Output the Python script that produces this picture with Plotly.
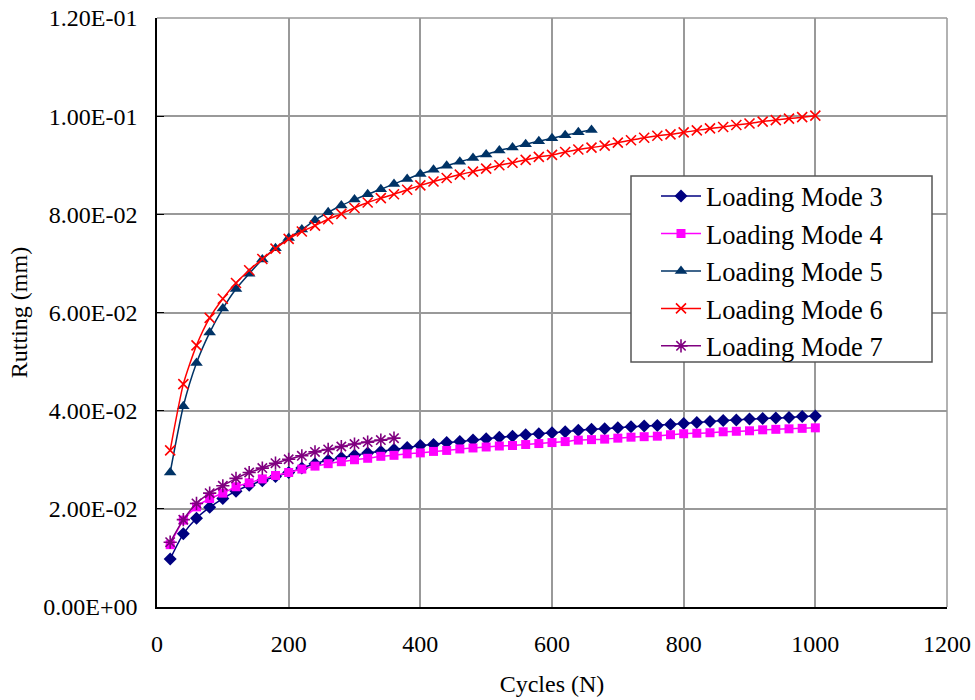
import plotly.graph_objects as go

cycles_long = list(range(20, 1001, 20))
cycles_m5 = list(range(20, 661, 20))
cycles_m7 = list(range(20, 361, 20))

mode3 = [0.0098, 0.0149, 0.0181, 0.0203, 0.0221, 0.0236, 0.0248, 0.0257, 0.0266, 0.0274,
         0.0283, 0.0292, 0.0299, 0.0304, 0.0309, 0.0314, 0.0317, 0.0321, 0.0325, 0.0329,
         0.0331, 0.0335, 0.0337, 0.0340, 0.0343, 0.0346, 0.0348, 0.0351, 0.0353, 0.0355,
         0.0357, 0.0360, 0.0362, 0.0363, 0.0365, 0.0367, 0.0369, 0.0370, 0.0372, 0.0374,
         0.0376, 0.0378, 0.0380, 0.0381, 0.0383, 0.0384, 0.0385, 0.0386, 0.0388, 0.0389]

mode4 = [0.0127, 0.0177, 0.0204, 0.0221, 0.0232, 0.0245, 0.0253, 0.0261, 0.0268, 0.0274,
         0.0281, 0.0287, 0.0292, 0.0296, 0.0300, 0.0303, 0.0307, 0.0309, 0.0312, 0.0314,
         0.0317, 0.0319, 0.0322, 0.0324, 0.0326, 0.0328, 0.0329, 0.0331, 0.0333, 0.0335,
         0.0337, 0.0340, 0.0341, 0.0342, 0.0344, 0.0346, 0.0347, 0.0348, 0.0351, 0.0353,
         0.0354, 0.0355, 0.0357, 0.0358, 0.0359, 0.0361, 0.0362, 0.0363, 0.0364, 0.0365]

mode5 = [0.0274, 0.0409, 0.0497, 0.0559, 0.0608, 0.0648, 0.0679, 0.0708, 0.0731, 0.0752,
         0.0769, 0.0788, 0.0804, 0.0818, 0.0830, 0.0841, 0.0851, 0.0862, 0.0872, 0.0882,
         0.0891, 0.0899, 0.0907, 0.0915, 0.0922, 0.0930, 0.0936, 0.0943, 0.0949, 0.0955,
         0.0961, 0.0967, 0.0972]

mode6 = [0.0319, 0.0454, 0.0533, 0.0589, 0.0628, 0.0660, 0.0686, 0.0709, 0.0730, 0.0750,
         0.0765, 0.0777, 0.0790, 0.0801, 0.0813, 0.0824, 0.0833, 0.0841, 0.0850, 0.0859,
         0.0867, 0.0874, 0.0881, 0.0887, 0.0893, 0.0900, 0.0905, 0.0911, 0.0917, 0.0921,
         0.0927, 0.0932, 0.0936, 0.0940, 0.0946, 0.0951, 0.0956, 0.0960, 0.0963, 0.0967,
         0.0971, 0.0975, 0.0978, 0.0982, 0.0985, 0.0989, 0.0992, 0.0995, 0.0998, 0.1001]

mode7 = [0.0132, 0.0178, 0.0211, 0.0232, 0.0247, 0.0262, 0.0274, 0.0283, 0.0293, 0.0301,
         0.0308, 0.0316, 0.0321, 0.0327, 0.0332, 0.0336, 0.0340, 0.0344]

names = ["Loading Mode 3", "Loading Mode 4", "Loading Mode 5", "Loading Mode 6", "Loading Mode 7"]
colors = ["#000080", "#FF00FF", "#003366", "#FF0000", "#800080"]

x_ticks = [0, 200, 400, 600, 800, 1000, 1200]
y_ticks = [0.0, 0.02, 0.04, 0.06, 0.08, 0.10, 0.12]
y_tick_labels = ["0.00E+00", "2.00E-02", "4.00E-02", "6.00E-02", "8.00E-02", "1.00E-01", "1.20E-01"]

FONT = "Liberation Serif, Times New Roman, serif"

fig = go.Figure()

series = [
    (cycles_long, mode3, dict(symbol="diamond", size=10)),
    (cycles_long, mode4, dict(symbol="square", size=9)),
    (cycles_m5, mode5, dict(symbol="triangle-up", size=11)),
    (cycles_long, mode6, dict(symbol="x-thin", size=10)),
    (cycles_m7, mode7, dict(symbol="asterisk", size=11)),
]

for i, (xs, ys, mk) in enumerate(series):
    c = colors[i]
    marker = dict(color=c, size=mk["size"], symbol=mk["symbol"])
    if mk["symbol"] in ("x-thin", "asterisk"):
        marker["line"] = dict(color=c, width=1.6)
    else:
        marker["line"] = dict(width=0)
    fig.add_trace(go.Scatter(
        x=xs, y=ys, name=names[i], mode="lines+markers",
        line=dict(color=c, width=1.5, shape="spline", smoothing=0.6),
        marker=marker,
    ))

# plot area: 790 x 589 px
fig.update_layout(
    width=975, height=700,
    margin=dict(l=157, r=28, t=18, b=93),
    paper_bgcolor="white", plot_bgcolor="white",
    font=dict(family=FONT, color="black", size=24),
    showlegend=True,
    legend=dict(
        x=(656 - 157) / 790, y=0.738, xanchor="left", yanchor="top",
        bgcolor="rgba(0,0,0,0)", borderwidth=0,
        font=dict(family=FONT, size=26.5, color="black"),
        tracegroupgap=0, itemwidth=40,
    ),
    xaxis=dict(
        range=[0, 1200], tickvals=x_ticks, ticktext=[str(v) for v in x_ticks],
        showgrid=True, gridcolor="#999999", gridwidth=1.5,
        showline=True, linecolor="black", linewidth=1.5,
        ticks="", ticklabelstandoff=14, automargin=False,
        ticklabeloverflow="allow",
        zeroline=False, mirror=False,
        title=dict(text="Cycles (N)", font=dict(family=FONT, size=24), standoff=20),
        tickfont=dict(family=FONT, size=24),
    ),
    yaxis=dict(
        range=[0, 0.12], tickvals=y_ticks, ticktext=y_tick_labels,
        showgrid=True, gridcolor="#999999", gridwidth=1.5,
        showline=True, linecolor="black", linewidth=1.5,
        ticks="inside", ticklen=7, tickcolor="black", ticklabelstandoff=13,
        automargin=False, ticklabeloverflow="allow",
        zeroline=False,
        title=dict(text="Rutting (mm)", font=dict(family=FONT, size=24), standoff=9),
        tickfont=dict(family=FONT, size=24),
    ),
)

# Right and top edges drawn as gray gridlines
fig.add_shape(type="line", xref="paper", yref="paper", x0=1, x1=1, y0=0, y1=1,
              line=dict(color="#999999", width=1.5))
fig.add_shape(type="line", xref="paper", yref="paper", x0=0, x1=1, y0=1, y1=1,
              line=dict(color="#999999", width=1.5))
# Legend box (white, covers curves beneath)
fig.add_shape(type="rect", xref="paper", yref="paper", layer="above",
              x0=(631 - 157) / 790, x1=(932 - 157) / 790,
              y0=(607 - 362) / 589, y1=(607 - 176) / 589,
              fillcolor="white", line=dict(color="#555555", width=1.5))

fig.write_html("out.html", config={"displayModeBar": False},
               post_script="document.body.style.margin='0';")
